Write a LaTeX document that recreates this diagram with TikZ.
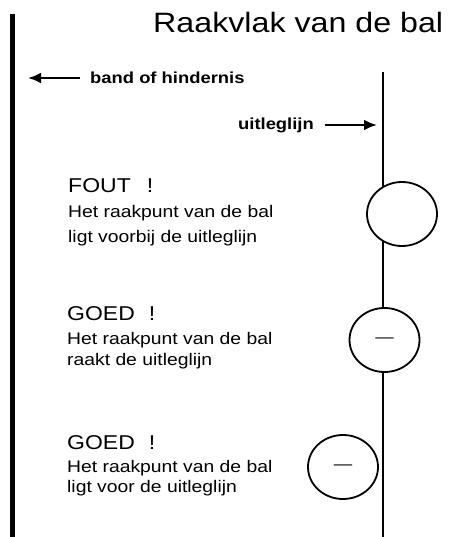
\documentclass[tikz,border=0pt]{standalone}
\usepackage{fontspec}
\setmainfont[FakeStretch=1.15]{Liberation Sans}
\usetikzlibrary{arrows.meta,shapes.geometric}

\begin{document}
\begin{tikzpicture}[x=1pt,y=-1pt,
	bal/.style={draw,ellipse,fill=white,line width=1.8pt,minimum width=70pt,minimum height=64pt,inner sep=0pt,font=\fontsize{16}{16}\selectfont},
	kop/.style={anchor=base west,inner sep=0pt,font=\fontsize{20}{20}\selectfont},
	regel/.style={anchor=base west,inner sep=0pt,font=\fontsize{16.8}{17}\selectfont},
	uitleg/.style={inner ysep=0pt,font=\bfseries\fontsize{16}{16}\selectfont},
	pijl/.style={-{Latex[length=13pt,width=11pt]},line width=2.4pt}]
	\useasboundingbox (0,0) rectangle (453,537);
	\node[anchor=base west,inner sep=0pt,font=\fontsize{28}{28}\selectfont] (titel) at (153,33) {Raakvlak van de bal};
	% band en uitleglijn
	\draw[line width=5pt] (12.5,14) -- (12.5,537);
	\draw[line width=1.3pt] (383,72) -- (383,537);
	\coordinate (bandpunt) at (28,78);
	\coordinate (lijnpunt) at (377,125);
	\node[uitleg,anchor=west,inner xsep=10pt] (band) at (80,78) {band of hindernis};
	\node[uitleg,anchor=east,inner xsep=11pt] (lijn) at (325,125) {uitleglijn};
	\draw[pijl] (band.west) -- (bandpunt);
	\draw[pijl] (lijn.east) -- (lijnpunt);
	% de drie ballen
	\node[bal] (balA) at (402,214) {};
	\node[bal] (balB) at (384.5,340) {---};
	\node[bal] (balC) at (343,467) {---};
	% teksten
	\node[kop] (fout) at (68,193) {FOUT\hspace{0.8em}!};
	\node[regel] (foutA) at (68,217) {Het raakpunt van de bal};
	\node[regel] (foutB) at (68,242) {ligt voorbij de uitleglijn};
	\node[kop] (goedA) at (67,320) {GOED\hspace{0.7em}!};
	\node[regel] (goedAa) at (67,344) {Het raakpunt van de bal};
	\node[regel] (goedAb) at (67,365) {raakt de uitleglijn};
	\node[kop] (goedB) at (67,449) {GOED\hspace{0.7em}!};
	\node[regel] (goedBa) at (67,472) {Het raakpunt van de bal};
	\node[regel] (goedBb) at (67,492) {ligt voor de uitleglijn};
\end{tikzpicture}
\end{document}
